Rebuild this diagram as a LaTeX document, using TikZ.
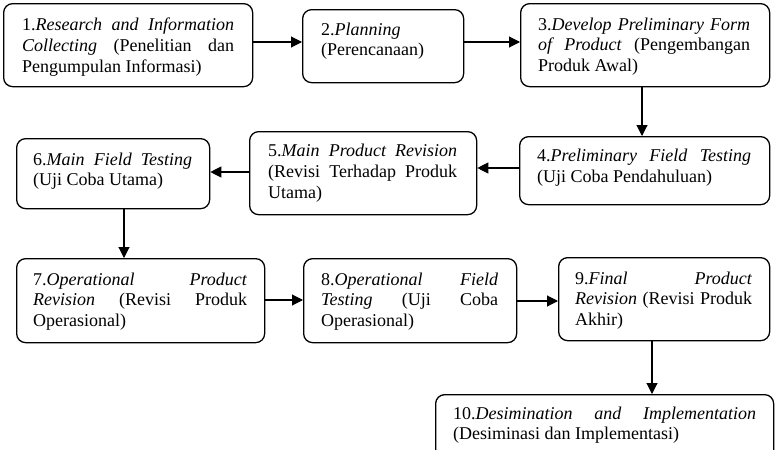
\documentclass[tikz,border=0pt]{standalone}
\usepackage{fontspec}
\setmainfont{Liberation Serif}
\usetikzlibrary{arrows.meta,calc}
\newcommand{\jl}[2]{\makebox[#1][s]{#2}}
\tikzset{
  box/.style={draw, line width=1.3pt, rounded corners=9pt, anchor=north west, inner sep=0pt},
  txt/.style={anchor=north west, inner sep=0pt, align=left,
    font=\fontsize{18}{20.6}\selectfont},
  arr/.style={line width=1.1pt, -{Triangle[length=11pt,width=11pt]}}
}
\begin{document}
\begin{tikzpicture}[x=1pt,y=-1pt]
\useasboundingbox (0,0) rectangle (777,450);
\clip (0,0) rectangle (777,450);
% boxes
\node[box, minimum width=249pt, minimum height=83pt] (b1) at (3,3) {};
\node[box, minimum width=161pt, minimum height=73pt] (b2) at (302,9) {};
\node[box, minimum width=249pt, minimum height=83pt] (b3) at (520,3) {};
\node[box, minimum width=250pt, minimum height=68pt] (b4) at (519,136) {};
\node[box, minimum width=227pt, minimum height=83pt] (b5) at (249,131) {};
\node[box, minimum width=193pt, minimum height=70pt] (b6) at (16,138) {};
\node[box, minimum width=248pt, minimum height=84pt] (b7) at (16,258) {};
\node[box, minimum width=213pt, minimum height=84pt] (b8) at (303,258) {};
\node[box, minimum width=211pt, minimum height=83pt] (b9) at (558,257) {};
\node[box, minimum width=338pt, minimum height=75pt] (b10) at (435,394) {};
% texts
\node[txt] (t1) at ($(b1.north west)+(19,13.2)$)
  {\strut\jl{212pt}{1.\textit{Research and Information}}\\\jl{212pt}{\textit{Collecting} (Penelitian dan}\\Pengumpulan Informasi)};
\node[txt] (t2) at ($(b2.north west)+(19,11.5)$)
  {\strut 2.\textit{Planning}\\(Perencanaan)};
\node[txt] (t3) at ($(b3.north west)+(18,12.5)$)
  {\strut\jl{212pt}{3.\textit{Develop Preliminary Form}}\\\jl{212pt}{\textit{of Product} (Pengembangan}\\Produk Awal)};
\node[txt] (t4) at ($(b4.north west)+(18,11.2)$)
  {\strut\jl{214pt}{4.\textit{Preliminary Field Testing}}\\(Uji Coba Pendahuluan)};
\node[txt] (t5) at ($(b5.north west)+(19,11.2)$)
  {\strut\jl{189pt}{5.\textit{Main Product Revision}}\\\jl{189pt}{(Revisi Terhadap Produk}\\Utama)};
\node[txt] (t6) at ($(b6.north west)+(17,12.5)$)
  {\strut\jl{159pt}{6.\textit{Main Field Testing}}\\(Uji Coba Utama)};
\node[txt] (t7) at ($(b7.north west)+(17,12.5)$)
  {\strut\jl{214pt}{7.\textit{Operational Product}}\\\jl{214pt}{\textit{Revision} (Revisi Produk}\\Operasional)};
\node[txt] (t8) at ($(b8.north west)+(18,12.5)$)
  {\strut\jl{177pt}{8.\textit{Operational Field}}\\\jl{177pt}{\textit{Testing} (Uji Coba}\\Operasional)};
\node[txt] (t9) at ($(b9.north west)+(17,12.5)$)
  {\strut\jl{177pt}{9.\textit{Final Product}}\\\jl{177pt}{\textit{Revision} (Revisi Produk}\\Akhir)};
\node[txt] (t10) at ($(b10.north west)+(18,10.5)$)
  {\strut\jl{303pt}{10.\textit{Desimination and Implementation}}\\(Desiminasi dan Implementasi)};
% connectors
\draw[arr] (b1.east |- 0,42) -- (b2.west |- 0,42);
\draw[arr] (b2.east |- 0,42) -- (b3.west |- 0,42);
\draw[arr] (b3.south -| 642,0) -- (b4.north -| 642,0);
\draw[arr] (b4.west |- 0,168) -- (b5.east |- 0,168);
\draw[arr] (b5.west |- 0,172) -- (b6.east |- 0,172);
\draw[arr] (b6.south -| 124,0) -- (b7.north -| 124,0);
\draw[arr] (b7.east |- 0,300) -- (b8.west |- 0,300);
\draw[arr] (b8.east |- 0,301) -- (b9.west |- 0,301);
\draw[arr] (b9.south -| 652,0) -- (b10.north -| 652,0);
\end{tikzpicture}
\end{document}
